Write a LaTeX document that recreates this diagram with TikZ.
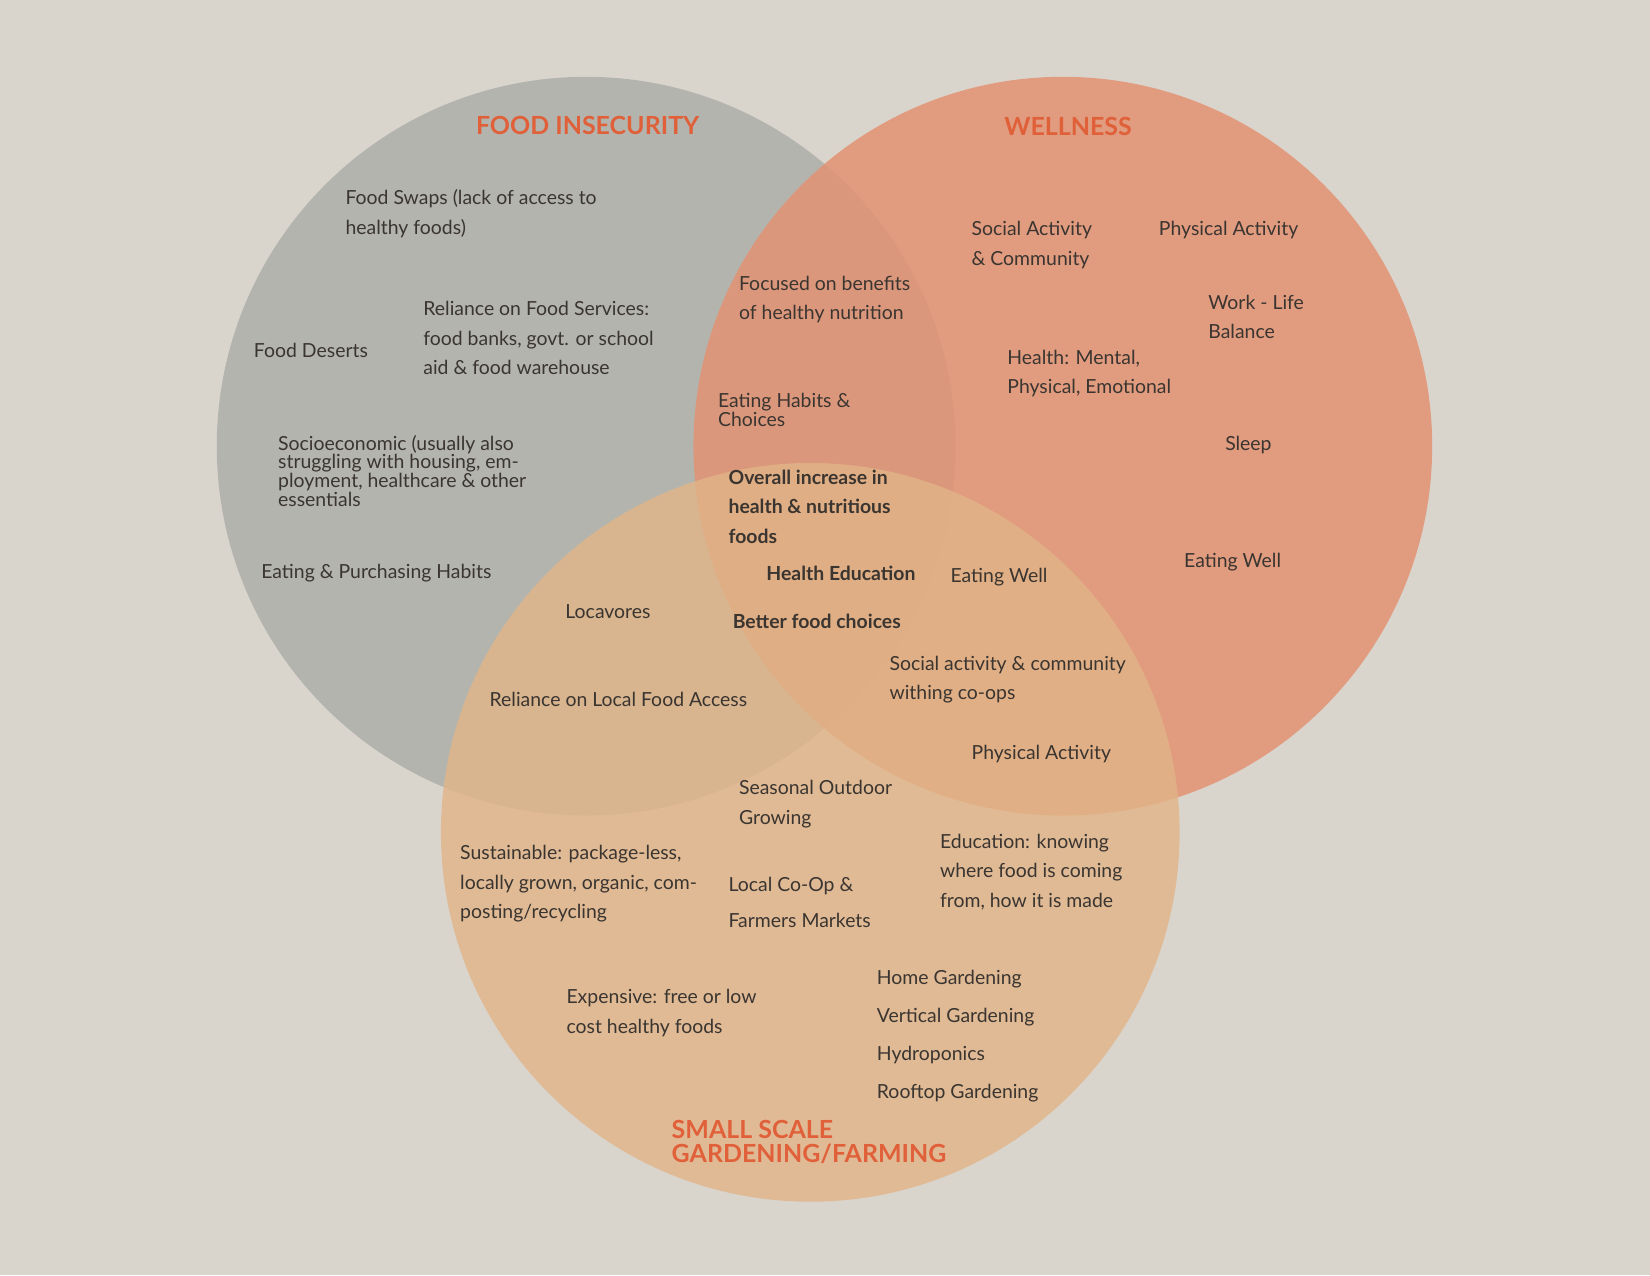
\documentclass[tikz,border=0pt]{standalone}
\usepackage{fontspec}
\setmainfont{Lato}
\definecolor{bgcol}{HTML}{D9D5CD}
\definecolor{graycol}{HTML}{B4B4AF}
\definecolor{orangecol}{HTML}{E39272}
\definecolor{tancol}{HTML}{E2B487}
\definecolor{titlecol}{HTML}{E0603A}
\definecolor{txtcol}{HTML}{3A3530}
\tikzset{
  item/.style={anchor=north west, inner sep=0pt, align=left, text=txtcol,
    font=\fontsize{10.5}{16}\selectfont},
  tight/.style={item, font=\fontsize{10.5}{10.2}\selectfont},
  keyitem/.style={item, font=\fontsize{10.5}{16}\selectfont\bfseries},
  title/.style={anchor=north west, inner sep=0pt, align=left, text=titlecol,
    font=\fontsize{13.5}{13}\selectfont\bfseries},
}
\begin{document}
\begin{tikzpicture}[x=0.02cm,y=-0.02cm]
\fill[bgcol] (0,0) rectangle (1568,1212);
\useasboundingbox (0,0) rectangle (1568,1212);
% circles
\fill[graycol] (557,424) circle (351);
\fill[orangecol, opacity=0.85] (1010,424) circle (351);
\fill[tancol, opacity=0.8] (770,791) circle (351);
% titles
\node[title] (tfood) at (452,110) {FOOD INSECURITY};
\node[title] (twell) at (954,111) {WELLNESS};
\node[title] (tsmall) at (638,1064) {SMALL SCALE\\GARDENING/FARMING};
% food insecurity
\node[item] (swaps) at (328,180) {Food Swaps (lack of access to\\healthy foods)};
\node[item] (deserts) at (241,326) {Food Deserts};
\node[item] (reliance) at (402,286) {Reliance on Food Services:\\food banks, govt. or school\\aid \& food warehouse};
\node[tight] (socio) at (264,413) {Socioeconomic (usually also\\struggling with housing, em-\\ployment, healthcare \& other\\essentials};
\node[item] (purch) at (248,536) {Eating \& Purchasing Habits};
% food + wellness
\node[item] (focused) at (702,262) {Focused on benefits\\of healthy nutrition};
\node[tight] (habits) at (682,373) {Eating Habits \&\\Choices};
% wellness
\node[item] (social) at (923,210) {Social Activity\\\& Community};
\node[item] (phys) at (1101,210) {Physical Activity};
\node[item] (work) at (1148,280) {Work - Life\\Balance};
\node[item] (health) at (957,332) {Health: Mental,\\Physical, Emotional};
\node[item] (sleep) at (1164,414) {Sleep};
\node[item] (eatwell) at (1125,525) {Eating Well};
% centre
\node[keyitem] (overall) at (692,446) {Overall increase in\\health \& nutritious\\foods};
\node[keyitem] (educ) at (728,538) {Health Education};
\node[keyitem] (better) at (696,583) {Better food choices};
% wellness + small scale
\node[item] (eatwell2) at (903,540) {Eating Well};
\node[item] (coops) at (845,623) {Social activity \& community\\withing co-ops};
\node[item] (phys2) at (923,708) {Physical Activity};
% food + small scale
\node[item] (loca) at (537,574) {Locavores};
\node[item] (local) at (465,657) {Reliance on Local Food Access};
% small scale
\node[item] (season) at (702,741) {Seasonal Outdoor\\Growing};
\node[item] (sustain) at (437,803) {Sustainable: package-less,\\locally grown, organic, com-\\posting/recycling};
\node[item, font=\fontsize{10.5}{19.5}\selectfont] (coop) at (692,833) {Local Co-Op \&\\Farmers Markets};
\node[item] (knowing) at (893,792) {Education: knowing\\where food is coming\\from, how it is made};
\node[item] (expens) at (538,940) {Expensive: free or low\\cost healthy foods};
\node[item, font=\fontsize{10.5}{20.5}\selectfont] (garden) at (833,922) {Home Gardening\\Vertical Gardening\\Hydroponics\\Rooftop Gardening};
\end{tikzpicture}
\end{document}
